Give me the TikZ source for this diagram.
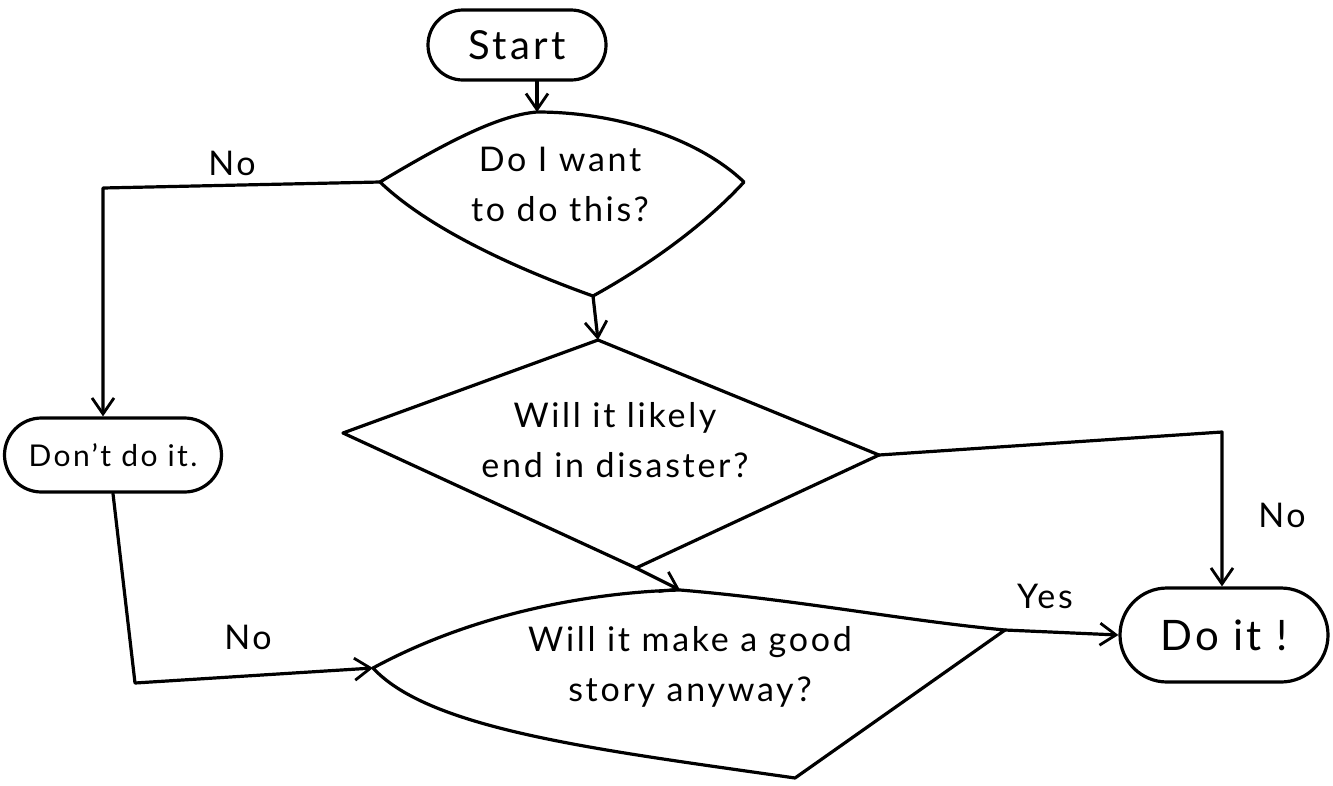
\documentclass[tikz,border=0pt]{standalone}
\usepackage{fontspec}
\setmainfont{Lato}[LetterSpace=8]
\usetikzlibrary{arrows.meta,shapes.misc}
\begin{document}
\begin{tikzpicture}[x=1pt,y=-1pt,
  line width=3.2pt, line join=round, line cap=round,
  arr/.style={-{Straight Barb[length=16pt,width=22pt,line width=2.8pt]}},
  pill/.style={draw, rounded rectangle, inner sep=0pt, font=\fontsize{40}{46}\selectfont},
  txt/.style={align=center, font=\fontsize{34}{50}\selectfont},
  lbl/.style={font=\fontsize{34}{40}\selectfont}]
\useasboundingbox (0,0) rectangle (1333,785);
% terminal nodes
\node[pill, minimum width=178pt, minimum height=70pt] (start) at (517,45) {Start};
\node[pill, minimum width=217pt, minimum height=74pt, font=\fontsize{30}{36}\selectfont] (dont) at (113,455) {Don’t do it.};
\node[pill, minimum width=208pt, minimum height=94pt, font=\fontsize{42}{48}\selectfont] (doit) at (1224,635) {Do it !};
% decision 1
\coordinate (d1l) at (380,182);
\coordinate (d1t) at (537,112);
\coordinate (d1r) at (744,182);
\coordinate (d1b) at (593,296);
\draw (d1l) .. controls (450,140) and (500,115) .. (d1t)
  .. controls (620,112) and (700,140) .. (d1r)
  .. controls (700,230) and (640,270) .. (d1b)
  .. controls (520,270) and (430,230) .. cycle;
\node[txt] (q1) at (560,184) {Do I want\\to do this?};
% decision 2
\coordinate (d2l) at (343,433);
\coordinate (d2t) at (598,340);
\coordinate (d2r) at (879,455);
\coordinate (d2b) at (636,568);
\draw (d2l) -- (d2t) -- (d2r) -- (d2b) -- cycle;
\node[txt] (q2) at (615,440) {Will it likely\\end in disaster?};
% decision 3
\coordinate (d3l) at (373,668);
\coordinate (d3t) at (680,590);
\coordinate (d3r) at (1005,630);
\coordinate (d3b) at (795,778);
\draw (d3l) .. controls (480,610) and (600,592) .. (d3t)
  .. controls (800,600) and (900,620) .. (d3r)
  -- (d3b)
  .. controls (600,750) and (430,730) .. cycle;
\node[txt] (q3) at (690,667) {Will it make a good\\story anyway?};
% connectors
\draw[arr] (start.south -| d1t) -- (d1t);
\coordinate (c1) at (103,188);
\draw[arr] (d1l) -- (c1) -- (dont.north -| c1);
\node[lbl] (n1) at (232,163) {No};
\draw[arr] (d1b) -- (d2t);
\coordinate (c2) at (1222,432);
\draw[arr] (d2r) -- (c2) -- (doit.north -| c2);
\node[lbl] (n2) at (1282,515) {No};
\draw[arr] (d2b) -- (d3t);
\coordinate (c3) at (135,683);
\draw[arr] (dont.south) -- (c3) -- (d3l);
\node[lbl] (n3) at (248,637) {No};
\draw[arr] (d3r) -- (doit.west);
\node[lbl] (y1) at (1045,596) {Yes};
\end{tikzpicture}
\end{document}
